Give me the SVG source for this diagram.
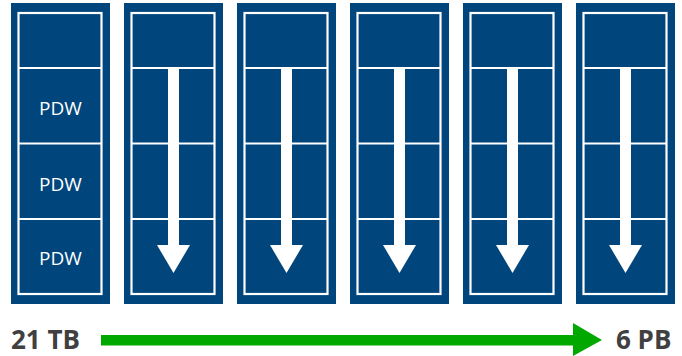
<svg xmlns="http://www.w3.org/2000/svg" width="682" height="356" viewBox="0 0 682 356">
<defs>
<style>
.outer{fill:#00457c}
.inner{fill:none;stroke:#ffffff;stroke-width:2.2}
.div{stroke:#ffffff;stroke-width:2.2}
.pdw{font-family:"Open Sans","Liberation Sans",sans-serif;font-size:19px;fill:#ffffff;text-anchor:middle}
.lbl{font-family:"Open Sans","Liberation Sans",sans-serif;font-size:26px;font-weight:bold;fill:#404040}
.warrow{fill:#ffffff}
</style>
<g id="colshape">
<rect class="outer" x="0" y="3" width="99" height="301"/>
<rect class="inner" x="7.5" y="13" width="83" height="281"/>
<line class="div" x1="7.5" y1="68" x2="90.5" y2="68"/>
<line class="div" x1="7.5" y1="143.5" x2="90.5" y2="143.5"/>
<line class="div" x1="7.5" y1="219" x2="90.5" y2="219"/>
</g>
<g id="downarrow">
<rect class="warrow" x="44" y="68" width="11" height="178"/>
<polygon class="warrow" points="33,245 66,245 49.5,273"/>
</g>
</defs>
<g id="col1">
<use href="#colshape" x="11"/>
<text class="pdw" x="60.5" y="115">PDW</text>
<text class="pdw" x="60.5" y="190.5">PDW</text>
<text class="pdw" x="60.5" y="265">PDW</text>
</g>
<g id="col2"><use href="#colshape" x="124"/><use href="#downarrow" x="124"/></g>
<g id="col3"><use href="#colshape" x="237"/><use href="#downarrow" x="237"/></g>
<g id="col4"><use href="#colshape" x="350"/><use href="#downarrow" x="350"/></g>
<g id="col5"><use href="#colshape" x="463"/><use href="#downarrow" x="463"/></g>
<g id="col6"><use href="#colshape" x="576"/><use href="#downarrow" x="576"/></g>
<g id="connectors">
<rect x="101" y="335" width="473" height="10.5" fill="#00a800"/>
<polygon points="573,323 602,340 573,356" fill="#00a800"/>
</g>
<g id="labels">
<text class="lbl" x="11" y="349">21 TB</text>
<text class="lbl" x="616" y="349">6 PB</text>
</g>
</svg>
